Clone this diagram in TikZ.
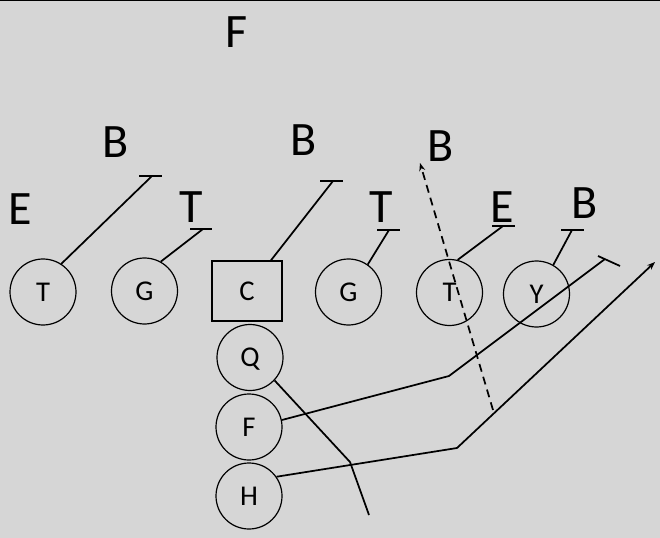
\documentclass[tikz,border=0pt]{standalone}
\usepackage{fontspec}
\setmainfont{Carlito}
\usetikzlibrary{calc,arrows.meta}
\definecolor{bg}{RGB}{214,214,214}
\begin{document}
\begin{tikzpicture}[x=0.75pt,y=-0.75pt,
  player/.style={circle,draw=black,line width=0.9pt,minimum size=49.5pt,inner sep=0pt,font=\fontsize{21.5}{24}\selectfont,text depth=0pt},
  center/.style={rectangle,draw=black,line width=0.9pt,minimum width=52.5pt,minimum height=45pt,inner sep=0pt,font=\fontsize{21.5}{24}\selectfont},
  def/.style={font=\fontsize{36}{40}\selectfont,inner sep=0pt},
  route/.style={line width=1.3pt},
  blockbar/.style={line width=1.3pt},
  tip/.style={-{Stealth[length=6pt,width=4.5pt]}}
]
\fill[bg] (0,0) rectangle (660,538);
\useasboundingbox (0,0) rectangle (660,538);
\fill[black] (0,0) rectangle (660,1.5);

% offense
\node[player] (T1) at (43,292) {T};
\node[player] (G1) at (144.5,291) {G};
\node[center] (C) at (247,291) {C};
\node[player] (G2) at (348.5,292) {G};
\node[player] (T2) at (449.5,292.5) {T};
\node[player] (Y) at (536.5,294) {Y};
\node[player] (Q) at (250,357.5) {Q};
\node[player] (F) at (249,427) {F};
\node[player] (H) at (249,496) {H};

% defense
\node[def] (dF) at (237,32.5) {F};
\node[def] (dB1) at (116,142) {B};
\node[def] (dB2) at (304,140) {B};
\node[def] (dE1) at (20,209.5) {E};
\node[def] (dT1) at (191,207) {T};
\node[def] (dB3) at (441,146) {B};
\node[def] (dT2) at (381,207) {T};
\node[def] (dE2) at (502,207.5) {E};
\node[def] (dB4) at (585,203) {B};

% block ends
\coordinate (b1) at (152,176);
\coordinate (b2) at (333,181);
\coordinate (b3) at (203,229);
\coordinate (b4) at (389,230);
\coordinate (b5) at (503,226);
\coordinate (b6) at (572,230);
\coordinate (f1) at (449,376);
\coordinate (f2) at (605,259);
\coordinate (h1) at (457,448);
\coordinate (h2) at (655,262);
\coordinate (q1) at (350,462);
\coordinate (q2) at (369,515);
\coordinate (d1) at (493,410);
\coordinate (d2) at (420,163);

\draw[route] (T1.57) -- (b1);
\draw[blockbar] ($(b1)+(-13,0)$) -- ($(b1)+(10,0)$);
\draw[route] (C.52) -- (b2);
\draw[blockbar] ($(b2)+(-13,0)$) -- ($(b2)+(10,0)$);
\draw[route] (G1.61) -- (b3);
\draw[blockbar] ($(b3)+(-13,0)$) -- ($(b3)+(9,0)$);
\draw[route] (G2.55) -- (b4);
\draw[blockbar] ($(b4)+(-12,0)$) -- ($(b4)+(11,0)$);
\draw[route] (T2.76) -- (b5);
\draw[blockbar] ($(b5)+(-11,0)$) -- ($(b5)+(12,0)$);
\draw[route] (Y.60) -- (b6);
\draw[blockbar] ($(b6)+(-11,0)$) -- ($(b6)+(12,0)$);

\draw[route] (F.12) -- (f1) -- (f2);
\draw[blockbar] ($(f2)+(-7,-3)$) -- ($(f2)+(15,7)$);
\draw[route,tip] (H.35) -- (h1) -- (h2);
\draw[route] (Q.-43) -- (q1) -- (q2);
\draw[route,tip,dash pattern=on 6pt off 4pt] (d1) -- (d2);
\end{tikzpicture}
\end{document}
